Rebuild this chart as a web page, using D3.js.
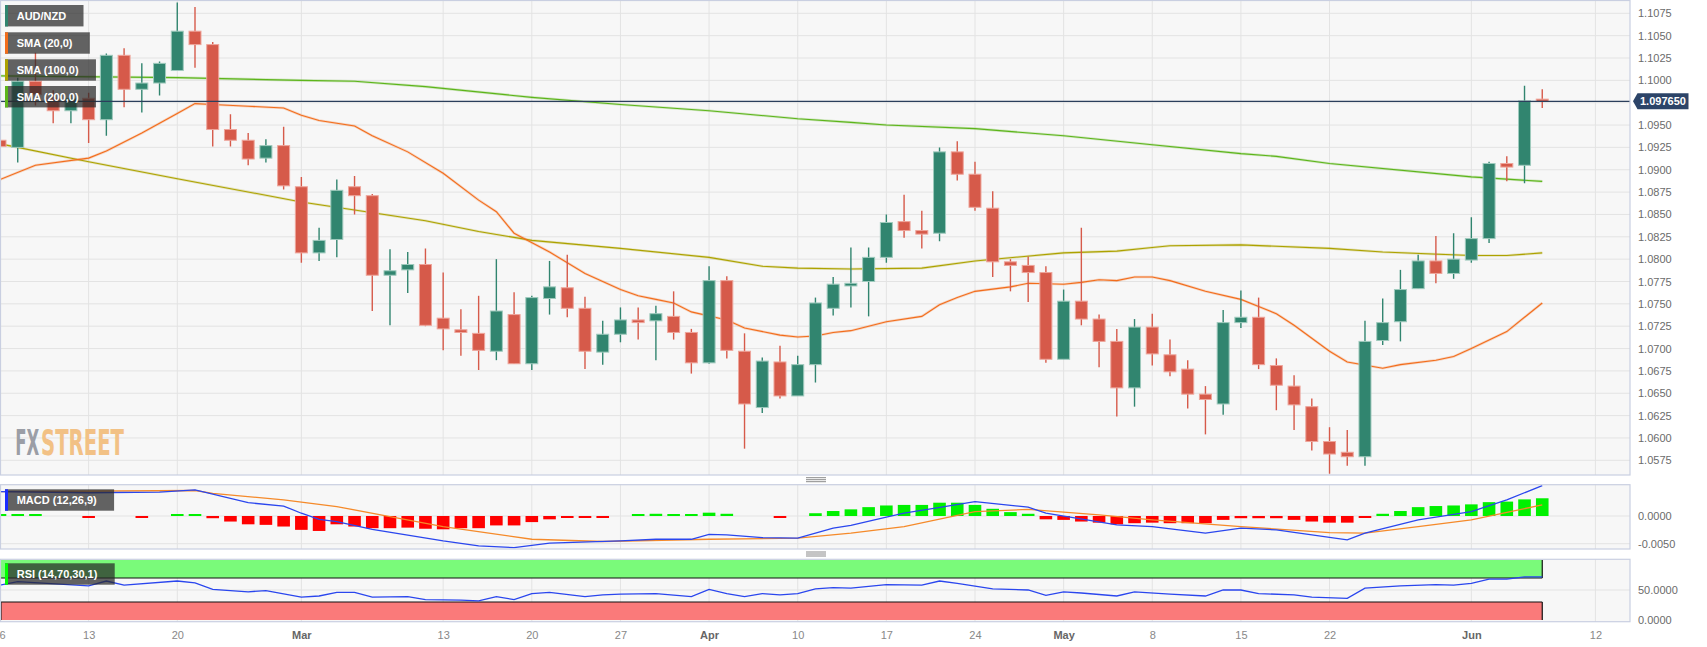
<!DOCTYPE html>
<html><head><meta charset="utf-8">
<script src="https://cdn.jsdelivr.net/npm/d3@7"></script>
<style>
html,body{margin:0;padding:0;background:#fff;}
svg{display:block;font-family:"Liberation Sans",Arial,sans-serif;}
</style></head><body>
<svg id="chart" width="1707" height="647"></svg>
<script>
// ---------------- DATA ----------------
const opens = [1.0933,1.0925,1.0999,1.0980,1.0966,1.0980,1.0956,1.1028,1.0990,1.0997,
1.1011,1.1055,1.1040,1.0945,1.0933,1.0913,1.0927,1.0881,1.0807,1.0822,
1.0881,1.0871,1.0782,1.0788,1.0794,1.0734,1.0721,1.0717,1.0697,1.0738,
1.0683,1.0756,1.0768,1.0745,1.0696,1.0716,1.0732,1.0731,1.0736,1.0718,
1.0684,1.0776,1.0697,1.0634,1.0685,1.0647,1.0682,1.0745,1.0770,1.0775,
1.0802,1.0842,1.0832,1.0829,1.0920,1.0895,1.0857,1.0797,1.0793,1.0785,
1.0688,1.0753,1.0733,1.0708,1.0656,1.0724,1.0693,1.0677,1.0649,1.0638,
1.0729,1.0735,1.0681,1.0658,1.0635,1.0596,1.0584,1.0579,1.0709,1.0730,
1.0767,1.0798,1.0784,1.0799,1.0823,1.0907,1.0905,1.0979];
const highs = [1.0978,1.1003,1.1031,1.0989,1.0984,1.0986,1.1030,1.1036,1.1019,1.1021,
1.1087,1.1082,1.1043,1.0962,1.0941,1.0934,1.0948,1.0892,1.0835,1.0889,
1.0893,1.0873,1.0811,1.0808,1.0812,1.0785,1.0744,1.0759,1.0800,1.0763,
1.0759,1.0798,1.0805,1.0758,1.0731,1.0746,1.0746,1.0748,1.0764,1.0722,
1.0792,1.0781,1.0717,1.0690,1.0703,1.0692,1.0757,1.0780,1.0813,1.0813,
1.0850,1.0872,1.0854,1.0925,1.0932,1.0909,1.0876,1.0800,1.0803,1.0792,
1.0766,1.0835,1.0738,1.0722,1.0733,1.0739,1.0710,1.0687,1.0658,1.0743,
1.0765,1.0757,1.0689,1.0670,1.0644,1.0612,1.0609,1.0731,1.0756,1.0788,
1.0805,1.0826,1.0829,1.0847,1.0909,1.0915,1.0994,1.0990];
const lows = [1.0917,1.0908,1.0972,1.0952,1.0952,1.0930,1.0938,1.0970,1.0964,1.0983,
1.1011,1.1014,1.0926,1.0926,1.0905,1.0908,1.0878,1.0796,1.0798,1.0802,
1.0850,1.0742,1.0726,1.0762,1.0725,1.0698,1.0692,1.0676,1.0687,1.0683,
1.0676,1.0738,1.0735,1.0677,1.0682,1.0707,1.0710,1.0687,1.0710,1.0672,
1.0683,1.0689,1.0588,1.0628,1.0644,1.0647,1.0662,1.0737,1.0746,1.0736,
1.0796,1.0824,1.0812,1.0820,1.0888,1.0854,1.0780,1.0764,1.0752,1.0684,
1.0688,1.0726,1.0679,1.0624,1.0635,1.0681,1.0669,1.0633,1.0604,1.0626,
1.0723,1.0677,1.0631,1.0609,1.0586,1.0560,1.0569,1.0569,1.0704,1.0708,
1.0767,1.0773,1.0778,1.0796,1.0818,1.0887,1.0885,1.0969];
const closes = [1.0926,1.0999,1.0984,1.0966,1.0980,1.0956,1.1028,1.0990,1.0997,1.1019,
1.1055,1.1040,1.0945,1.0933,1.0912,1.0927,1.0882,1.0807,1.0821,1.0877,
1.0871,1.0782,1.0787,1.0794,1.0726,1.0722,1.0718,1.0698,1.0742,1.0683,
1.0757,1.0769,1.0745,1.0697,1.0716,1.0732,1.0729,1.0739,1.0718,1.0684,
1.0776,1.0698,1.0638,1.0686,1.0647,1.0682,1.0751,1.0772,1.0773,1.0802,
1.0841,1.0832,1.0828,1.0920,1.0895,1.0858,1.0797,1.0793,1.0785,1.0688,
1.0753,1.0733,1.0708,1.0656,1.0724,1.0694,1.0674,1.0649,1.0643,1.0729,
1.0735,1.0682,1.0659,1.0637,1.0596,1.0582,1.0579,1.0708,1.0729,1.0766,
1.0798,1.0784,1.0800,1.0823,1.0907,1.0903,1.0977,1.09765];

// SMA readings: [candle index, value]
const sma20 = [[0,1.0889],[2,1.0905],[5,1.0913],[6,1.0921],[8,1.0941],[10,1.0963],[11,1.0974],[12,1.0973],[14,1.0971],[16,1.0969],[17,1.0961],[18,1.0955],[20,1.0949],[21,1.0938],[23,1.0920],[25,1.0896],[27,1.0866],[28,1.0853],[29,1.0829],[31,1.0808],[33,1.0784],[35,1.0766],[36,1.0759],[37,1.0755],[38,1.0751],[39,1.0741],[41,1.0732],[42,1.0723],[44,1.0715],[45,1.0713],[46,1.0714],[47,1.0718],[48,1.0720],[50,1.0730],[52,1.0736],[53,1.0749],[54,1.0757],[55,1.0764],[57,1.0769],[58,1.0773],[60,1.0772],[61,1.0774],[62,1.0777],[63,1.0776],[64,1.0780],[65,1.0780],[66,1.0776],[68,1.0764],[70,1.0755],[71,1.0747],[72,1.0739],[73,1.0726],[75,1.0697],[76,1.0685],[78,1.0678],[79,1.0682],[81,1.0687],[82,1.0691],[83,1.0700],[85,1.0719],[87,1.0751]];
const sma100 = [[0,1.0929],[1,1.0925],[5,1.0909],[10,1.0890],[17,1.0864],[20,1.0855],[24,1.0843],[27,1.0831],[30,1.0821],[35,1.0812],[40,1.0802],[43,1.0792],[45,1.0790],[48,1.0789],[52,1.0790],[55,1.0798],[60,1.0807],[63,1.0809],[65,1.0813],[66,1.0815],[70,1.0816],[75,1.0812],[78,1.0808],[83,1.0804],[85,1.0804],[87,1.0807]];
const sma200 = [[0,1.1005],[10,1.1003],[17,1.1000],[20,1.0999],[24,1.0993],[30,1.0981],[35,1.0973],[40,1.0966],[45,1.0957],[48,1.0953],[50,1.0950],[55,1.0946],[60,1.0938],[65,1.0928],[70,1.0918],[72,1.0915],[75,1.0907],[83,1.0892],[87,1.0887]];

// MACD (12,26,9)
const macdLine = [[0,0.0044],[5,0.0042],[9,0.0043],[11,0.0047],[14,0.0024],[16,0.0018],[17,0.0005],[18,-0.0006],[19,-0.0010],[21,-0.0024],[25,-0.0045],[27,-0.0054],[29,-0.0057],[31,-0.0049],[35,-0.0045],[37,-0.0042],[39,-0.0042],[40,-0.0033],[41,-0.0034],[43,-0.0039],[45,-0.0040],[47,-0.0022],[48,-0.0017],[50,-0.0002],[51,0.0005],[55,0.0026],[58,0.0016],[59,0.0005],[63,-0.0016],[65,-0.0019],[68,-0.0031],[70,-0.0022],[72,-0.0025],[76,-0.0043],[77,-0.0031],[80,-0.0007],[83,0.0008],[85,0.0029],[87,0.0055]];
const signalLine = [[0,0.0044],[11,0.0046],[12,0.0041],[16,0.0029],[19,0.0017],[22,-0.0001],[25,-0.0019],[30,-0.0042],[34,-0.0046],[40,-0.0042],[45,-0.0040],[48,-0.0031],[51,-0.0019],[55,0.0008],[58,0.0012],[62,0.0002],[65,-0.0007],[70,-0.0019],[75,-0.0030],[77,-0.0031],[80,-0.0019],[83,-0.0007],[87,0.0020]];
const macdHist = [0.0001,0.0002,0.0002,0,0,-0.0001,0,0,-0.0001,0,
0.0001,0.0001,-0.0004,-0.0010,-0.0015,-0.0016,-0.0019,-0.0025,-0.0027,-0.0015,
-0.0019,-0.0022,-0.0022,-0.0021,-0.0023,-0.0024,-0.0022,-0.0022,-0.0017,-0.0017,
-0.0011,-0.0006,-0.0003,-0.0003,-0.0003,0,0.0001,0.0004,0.0003,0.0001,
0.0006,0.0004,0,0,-0.0001,0,0.0005,0.0009,0.0012,0.0016,
0.0019,0.0020,0.0020,0.0024,0.0024,0.0020,0.0013,0.0007,0.0004,-0.0006,
-0.0007,-0.0010,-0.0012,-0.0015,-0.0013,-0.0012,-0.0013,-0.0013,-0.0013,-0.0007,
-0.0004,-0.0004,-0.0004,-0.0007,-0.0010,-0.0012,-0.0012,-0.0003,0.0004,0.0009,
0.0016,0.0018,0.0019,0.0021,0.0025,0.0026,0.0030,0.0032];

// RSI (14,70,30,1)
const rsiLine = [[0,58],[1,64],[5,57],[6,65],[7,58],[10,65],[11,62],[12,51],[14,47],[15,49],[17,38],[18,40],[19,46],[20,46],[21,38],[23,39],[24,34],[26,33],[27,32],[28,39],[29,34],[30,44],[31,46],[33,39],[34,42],[35,43],[37,44],[39,39],[40,51],[41,44],[42,39],[43,44],[44,42],[45,44],[46,52],[47,54],[48,53],[50,59],[52,58],[53,65],[54,61],[56,52],[58,50],[59,41],[60,47],[61,45],[63,40],[64,47],[66,43],[68,40],[69,50],[70,50],[71,44],[73,42],[74,38],[76,36],[77,53],[79,57],[81,59],[82,58],[83,61],[84,68],[85,68],[86,72],[87,72]];
const rsiUpper = 70, rsiLower = 30;

// Axis ticks
const tickIndex  = [0,5,10,17,25,30,35,40,45,50,55,60,65,70,75,83,90];
const tickLabels = ["6","13","20","Mar","13","20","27","Apr","10","17","24","May","8","15","22","Jun","12"];
const priceGrid = [1.0575,1.0600,1.0625,1.0650,1.0675,1.0700,1.0725,1.0750,1.0775,1.0800,1.0825,1.0850,1.0875,1.0900,1.0925,1.0950,1.0975,1.1000,1.1025,1.1050,1.1075];
const priceLabels = [1.0575,1.0600,1.0625,1.0650,1.0675,1.0700,1.0725,1.0750,1.0775,1.0800,1.0825,1.0850,1.0875,1.0900,1.0925,1.0950,1.1000,1.1025,1.1050,1.1075];
const macdTicks = [0,-0.005];
const rsiTicks = [0,50];
const lastPrice = 1.09765;
const legendMain = ["AUD/NZD","SMA (20,0)","SMA (100,0)","SMA (200,0)"];

// ---------------- DRAW ----------------
const svg = d3.select("#chart");
const PR = 1630;
const P = {main:[0.5,475], macd:[484.7,549], rsi:[559.3,621.7]};
const C = {up:"#31856f", down:"#d65a4a", upS:"#9fcabd", downS:"#eea59b",
  s20:"#f26d1c", s100:"#ada200", s200:"#5db51b", grid:"#e3e3e3", bg:"#f7f7f7", border:"#c9cfe1"};

const x = d3.scaleLinear().domain([0,91.95]).range([0,PR]);
const yM = d3.scaleLinear().domain([1.0575,1.1075]).range([460.3,13.3]);
const yD = d3.scaleLinear().domain([-0.005,0]).range([543.7,516]);
const yR = d3.scaleLinear().domain([0,100]).range([620,560]);

const defs = svg.append("defs");
Object.entries(P).forEach(([k,[t,b]])=>{
  svg.append("rect").attr("x",0.5).attr("y",t).attr("width",PR-0.5).attr("height",b-t).attr("fill",C.bg);
  defs.append("clipPath").attr("id","clip-"+k).append("rect").attr("x",0.5).attr("y",t).attr("width",PR-0.5).attr("height",b-t);
});

function vgrid(k){
  const [t,b]=P[k];
  svg.append("g").selectAll("line").data(tickIndex).join("line")
    .attr("x1",d=>x(d)).attr("x2",d=>x(d)).attr("y1",t).attr("y2",b)
    .attr("stroke",C.grid).attr("stroke-width",1);
}
function hgrid(k,vals,sc){
  svg.append("g").attr("clip-path",`url(#clip-${k})`).selectAll("line").data(vals).join("line")
    .attr("x1",0).attr("x2",PR).attr("y1",d=>sc(d)).attr("y2",d=>sc(d))
    .attr("stroke",C.grid).attr("stroke-width",1);
}
vgrid("main"); hgrid("main",priceGrid,yM);
vgrid("macd"); hgrid("macd",macdTicks,yD);
vgrid("rsi"); hgrid("rsi",[50],yR);

// watermark (tall condensed letters via vertical scaling)
[["FX",15.3,24,"#9b9ea6"],["STREET",41,83,"#f2c185"]].forEach(([t,x0,w,c])=>{
  svg.append("text").attr("transform",`translate(${x0},455) scale(1,2.3)`)
    .attr("x",0).attr("y",0)
    .attr("font-family","DejaVu Sans, sans-serif").attr("font-weight","bold").attr("font-size",15.5)
    .attr("textLength",w).attr("lengthAdjust","spacingAndGlyphs").attr("fill",c).text(t);
});

// main panel content
const gMain = svg.append("g").attr("clip-path","url(#clip-main)");
const lineM = d3.line().x(d=>x(d[0])).y(d=>yM(d[1]));
[[sma200,C.s200],[sma100,C.s100],[sma20,C.s20]].forEach(([d,c])=>{
  gMain.append("path").attr("d",lineM(d)).attr("fill","none").attr("stroke",c).attr("stroke-opacity",0.25).attr("stroke-width",2.6);
  gMain.append("path").attr("d",lineM(d)).attr("fill","none").attr("stroke",c).attr("stroke-width",1.1);
});

const candles = opens.map((o,i)=>({i,o,h:highs[i],l:lows[i],c:closes[i]}));
const bw = 12;
const cg = gMain.append("g").selectAll("g").data(candles).join("g");
cg.append("line").attr("x1",d=>x(d.i)).attr("x2",d=>x(d.i))
  .attr("y1",d=>yM(d.h)).attr("y2",d=>yM(d.l))
  .attr("stroke",d=>d.c>=d.o?C.up:C.down).attr("stroke-width",1.4);
cg.append("rect").attr("x",d=>x(d.i)-bw/2).attr("width",bw)
  .attr("y",d=>yM(Math.max(d.o,d.c)))
  .attr("height",d=>Math.max(1.5,Math.abs(yM(d.o)-yM(d.c))))
  .attr("fill",d=>d.c>=d.o?C.up:C.down)
  .attr("stroke",d=>d.c>=d.o?C.upS:C.downS).attr("stroke-width",1);

// last price line
gMain.append("line").attr("x1",0).attr("x2",PR).attr("y1",yM(lastPrice)).attr("y2",yM(lastPrice))
  .attr("stroke","#2b3f5c").attr("stroke-width",1.3);

// MACD panel
const gD = svg.append("g").attr("clip-path","url(#clip-macd)");
gD.append("g").selectAll("rect").data(macdHist.map((v,i)=>({i,v})).filter(d=>d.v!==0)).join("rect")
  .attr("x",d=>x(d.i)-6.3).attr("width",12.6)
  .attr("y",d=>d.v>0?Math.min(yD(d.v),yD(0)-2):yD(0))
  .attr("height",d=>Math.max(2,Math.abs(yD(d.v)-yD(0))))
  .attr("fill",d=>d.v>0?"#00f000":"#ff0000");
const lineD = d3.line().x(d=>x(d[0])).y(d=>yD(d[1]));
gD.append("path").attr("d",lineD(signalLine)).attr("fill","none").attr("stroke","#f58a2a").attr("stroke-width",1.3);
gD.append("path").attr("d",lineD(macdLine)).attr("fill","none").attr("stroke","#2a46ee").attr("stroke-width",1.3);

// RSI panel
const gR = svg.append("g").attr("clip-path","url(#clip-rsi)");
const lastX = x(opens.length-1);
gR.append("rect").attr("x",0).attr("width",lastX).attr("y",yR(100)).attr("height",yR(rsiUpper)-yR(100))
  .attr("fill","#7afa7a");
gR.append("rect").attr("x",0).attr("width",lastX).attr("y",yR(rsiLower)).attr("height",yR(0)-yR(rsiLower))
  .attr("fill","#fa7a7a");
const bandEdges = [
  [0,yR(rsiUpper),lastX,yR(rsiUpper)],[lastX,yR(100),lastX,yR(rsiUpper)],
  [0,yR(rsiLower),lastX,yR(rsiLower)],[lastX,yR(rsiLower),lastX,yR(0)],
  [1,yR(rsiLower),1,yR(0)]];
gR.append("g").selectAll("line").data(bandEdges).join("line")
  .attr("x1",d=>d[0]).attr("y1",d=>d[1]).attr("x2",d=>d[2]).attr("y2",d=>d[3])
  .attr("stroke","#111").attr("stroke-width",1.2);
gR.append("path").attr("d",d3.line().x(d=>x(d[0])).y(d=>yR(d[1]))(rsiLine))
  .attr("fill","none").attr("stroke","#2a46ee").attr("stroke-width",1.3);

// panel borders
Object.values(P).forEach(([t,b])=>{
  svg.append("rect").attr("x",0.5).attr("y",t).attr("width",PR-0.5).attr("height",b-t)
    .attr("fill","none").attr("stroke",C.border).attr("stroke-width",1.2);
});

// handles
[477.7,552].forEach(y0=>{
  [0,2,4].forEach(o=>svg.append("line").attr("x1",806).attr("x2",826).attr("y1",y0+o).attr("y2",y0+o)
    .attr("stroke","#8a8a8a").attr("stroke-width",1));
});

// legends
function legend(y, color, label){
  const g = svg.append("g");
  const bg = g.append("rect").attr("x",5).attr("y",y).attr("height",21.4).attr("fill","rgba(40,40,40,0.72)");
  g.append("rect").attr("x",5).attr("y",y).attr("width",3).attr("height",21.4).attr("fill",color);
  const t = g.append("text").attr("x",16.7).attr("y",y+14.8).attr("fill","#fff")
    .attr("font-size",11).attr("font-weight","bold").text(label);
  bg.attr("width", t.node().getComputedTextLength()+29);
}
legend(5, C.up, legendMain[0]);
legend(32.3, C.s20, legendMain[1]);
legend(59.3, C.s100, legendMain[2]);
legend(86, C.s200, legendMain[3]);
legend(489.3, "#1a2cff", "MACD (12,26,9)");
legend(563.3, "#00ff00", "RSI (14,70,30,1)");

// y axes
function yAxis(sc, vals, fmt){
  const g = svg.append("g").attr("transform",`translate(${PR},0)`)
    .call(d3.axisRight(sc).tickValues(vals).tickFormat(fmt).tickSize(0).tickPadding(8));
  g.select(".domain").remove();
  g.attr("font-family","Liberation Sans, Arial, sans-serif").attr("font-size",11);
  g.selectAll("text").attr("fill","#6b6b6b");
}
yAxis(yM, priceLabels, d=>d.toFixed(4));
yAxis(yD, macdTicks, d=>d.toFixed(4));
yAxis(yR, rsiTicks, d=>d.toFixed(4));

// price tag
const py = yM(lastPrice);
svg.append("path").attr("d",`M1633,${py} L1637.5,${py-8} L1688.5,${py-8} L1688.5,${py+8} L1637.5,${py+8} Z`)
  .attr("fill","#2c4468");
svg.append("text").attr("x",1640).attr("y",py+4).attr("fill","#fff").attr("font-size",11)
  .attr("font-weight","bold").text(lastPrice.toFixed(6));

// x axis
const gx = svg.append("g").attr("transform","translate(0,622)")
  .call(d3.axisBottom(x).tickValues(tickIndex).tickFormat((d,i)=>tickLabels[i]).tickSize(0).tickPadding(9));
gx.select(".domain").remove();
gx.attr("font-family","Liberation Sans, Arial, sans-serif").attr("font-size",11);
gx.selectAll("text").attr("fill",(d,i)=>/[A-Za-z]/.test(tickLabels[i])?"#666":"#888")
  .attr("font-weight",(d,i)=>/[A-Za-z]/.test(tickLabels[i])?"bold":"normal")
  .attr("text-anchor",(d,i)=>i===0?"start":"middle")
  .attr("dx",(d,i)=>i===0?-1:0);
</script>
</body></html>
